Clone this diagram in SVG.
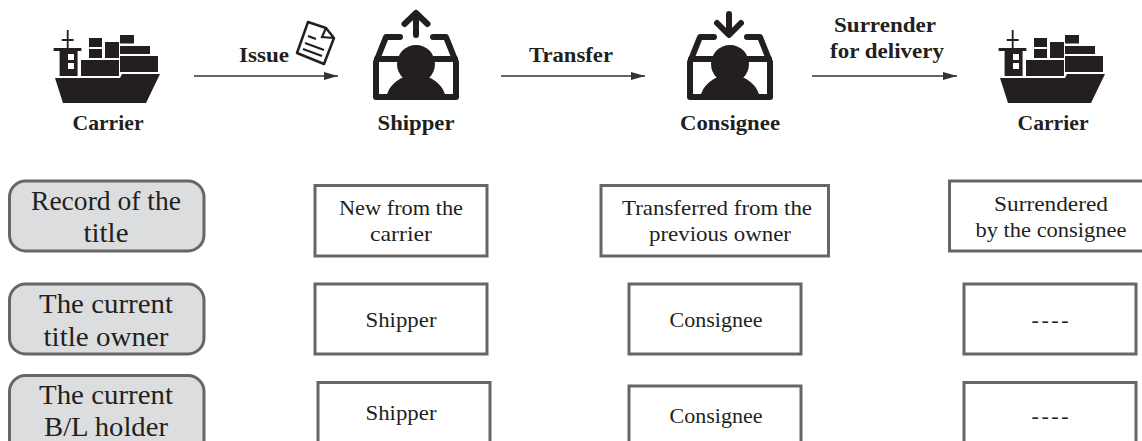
<svg xmlns="http://www.w3.org/2000/svg" width="1142" height="441" viewBox="0 0 1142 441">
<style>
text{font-family:"Liberation Serif","DejaVu Serif",serif;fill:#231f20;text-anchor:middle}
.h{font-size:22px;font-weight:bold}
.l{font-size:28px}
.c{font-size:22px}
.row{fill:#dcddde;stroke:#666;stroke-width:3}
.cell{fill:#fff;stroke:#666;stroke-width:3}
.ink{fill:none;stroke:#231f20;stroke-width:6;stroke-linecap:round;stroke-linejoin:round}
.conn{stroke:#333;stroke-width:1.6;fill:none;marker-end:url(#a)}
</style>
<defs>
<marker id="a" markerUnits="userSpaceOnUse" markerWidth="15" markerHeight="9" refX="14" refY="4" orient="auto"><path d="M0,0L14,4L0,8z" fill="#333"/></marker>
<g id="ship" fill="#231f20">
<path d="M66.8,30h1.800v9h5v2h-5v7h12.800v3h-3.800v25h-18v-25h-6v-3h13.200v-7h-5v-2h5z"/>
<rect x="68" y="54" width="6" height="6" fill="#fff"/><rect x="68" y="63" width="6" height="6" fill="#fff"/>
<rect x="89" y="38" width="13" height="9"/><rect x="89" y="49" width="13" height="9"/><rect x="105" y="42" width="14" height="16"/>
<rect x="81" y="60" width="38" height="16"/><rect x="120" y="35" width="14" height="8.500"/><rect x="120" y="46" width="30" height="8"/><rect x="120" y="56" width="38" height="16"/>
<path d="M55,78H120L122,74H160L146,103H63z"/>
</g>
<g id="tray">
<path class="ink" d="M400,37H386L376,62V97H456V62L446,37H433"/>
<path class="ink" d="M377,59H398M434,59H455"/>
<circle cx="416" cy="64" r="19" fill="#231f20"/>
<path d="M386,98C389,83 402,75 416,75C430,75 443,83 446,98z" fill="#231f20"/>
</g>
</defs>

<g id="connectors">
<path class="conn" d="M194,76H338"/>
<path class="conn" d="M501,76H645"/>
<path class="conn" d="M812,76H957"/>
</g>

<g id="carrier-start"><use href="#ship"/><text class="h" x="108" y="130" textLength="71" lengthAdjust="spacingAndGlyphs">Carrier</text></g>
<g id="issue-label"><text class="h" x="264" y="62" textLength="50" lengthAdjust="spacingAndGlyphs">Issue</text>
<path d="M308,22L326,28L334,38L324,64L297,53z" fill="#fff" stroke="#231f20" stroke-width="2.500" stroke-linejoin="round"/>
<path d="M326,28L322,37L334,38M308,36L316,39M305,43L324,50M303,49L322,56" fill="none" stroke="#231f20" stroke-width="2.200"/></g>
<g id="shipper"><use href="#tray"/><path class="ink" d="M416,35V14M404.500,24L416,13L427.500,24"/><text class="h" x="416" y="130" textLength="77" lengthAdjust="spacingAndGlyphs">Shipper</text></g>
<g id="transfer-label"><text class="h" x="571" y="62" textLength="84" lengthAdjust="spacingAndGlyphs">Transfer</text></g>
<g id="consignee"><use href="#tray" x="314"/><path class="ink" d="M729,14V34M717,23L729,35L741,23"/><text class="h" x="730" y="130" textLength="100" lengthAdjust="spacingAndGlyphs">Consignee</text></g>
<g id="surrender-label"><text class="h" x="885" y="32" textLength="102" lengthAdjust="spacingAndGlyphs">Surrender</text><text class="h" x="887" y="58" textLength="114" lengthAdjust="spacingAndGlyphs">for delivery</text></g>
<g id="carrier-end"><use href="#ship" x="945"/><text class="h" x="1053" y="130" textLength="71" lengthAdjust="spacingAndGlyphs">Carrier</text></g>

<g id="row-record"><rect class="row" x="9.500" y="181" width="194.500" height="70" rx="16"/><text class="l" x="106" y="210" textLength="150" lengthAdjust="spacingAndGlyphs">Record of the</text><text class="l" x="106" y="242" textLength="45" lengthAdjust="spacingAndGlyphs">title</text></g>
<g id="row-owner"><rect class="row" x="9.500" y="284" width="194.500" height="70" rx="16"/><text class="l" x="106" y="313" textLength="134" lengthAdjust="spacingAndGlyphs">The current</text><text class="l" x="106" y="346" textLength="125" lengthAdjust="spacingAndGlyphs">title owner</text></g>
<g id="row-holder"><rect class="row" x="9.500" y="375.500" width="194.500" height="80" rx="16"/><text class="l" x="106" y="404" textLength="134" lengthAdjust="spacingAndGlyphs">The current</text><text class="l" x="106" y="436" textLength="124" lengthAdjust="spacingAndGlyphs">B/L holder</text></g>

<g id="cell-new"><rect class="cell" x="315" y="185.500" width="172" height="70.500"/><text class="c" x="401" y="215" textLength="124" lengthAdjust="spacingAndGlyphs">New from the</text><text class="c" x="401" y="241" textLength="62" lengthAdjust="spacingAndGlyphs">carrier</text></g>
<g id="cell-shipper-owner"><rect class="cell" x="315" y="284" width="172" height="70"/><text class="c" x="401" y="327" textLength="71" lengthAdjust="spacingAndGlyphs">Shipper</text></g>
<g id="cell-shipper-holder"><rect class="cell" x="318" y="382.500" width="172" height="80"/><text class="c" x="401" y="420" textLength="71" lengthAdjust="spacingAndGlyphs">Shipper</text></g>
<g id="cell-transferred"><rect class="cell" x="601" y="185.500" width="227.500" height="70.500"/><text class="c" x="717" y="215" textLength="190" lengthAdjust="spacingAndGlyphs">Transferred from the</text><text class="c" x="720" y="241" textLength="142" lengthAdjust="spacingAndGlyphs">previous owner</text></g>
<g id="cell-consignee-owner"><rect class="cell" x="629" y="284" width="172" height="70"/><text class="c" x="716" y="327" textLength="93" lengthAdjust="spacingAndGlyphs">Consignee</text></g>
<g id="cell-consignee-holder"><rect class="cell" x="629" y="386" width="172" height="80"/><text class="c" x="716" y="423" textLength="93" lengthAdjust="spacingAndGlyphs">Consignee</text></g>
<g id="cell-surrendered"><rect class="cell" x="949.500" y="181" width="210" height="70"/><text class="c" x="1051" y="211" textLength="114" lengthAdjust="spacingAndGlyphs">Surrendered</text><text class="c" x="1051" y="237" textLength="151" lengthAdjust="spacingAndGlyphs">by the consignee</text></g>
<g id="cell-none-owner"><rect class="cell" x="964" y="284" width="172" height="70"/><text class="c" x="1050" y="327" textLength="37" lengthAdjust="spacing">----</text></g>
<g id="cell-none-holder"><rect class="cell" x="964" y="382.500" width="172" height="80"/><text class="c" x="1050" y="423" textLength="37" lengthAdjust="spacing">----</text></g>
</svg>
